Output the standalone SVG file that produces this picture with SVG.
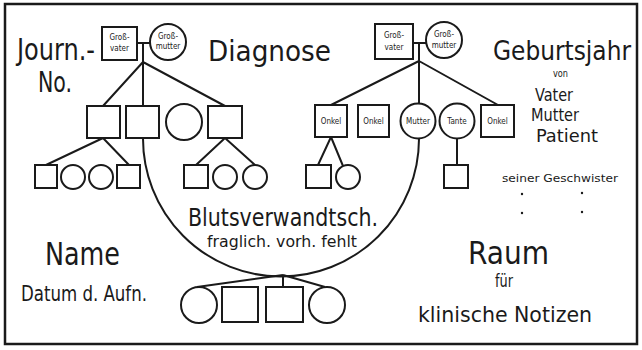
<svg xmlns="http://www.w3.org/2000/svg" width="642" height="350" viewBox="0 0 642 350">
  <style>
    .ln { fill: none; stroke: #1a1a1a; stroke-width: 2; }
    .nd { fill: #ffffff; stroke: #1a1a1a; stroke-width: 2; }
    .tx { font-family: "DejaVu Sans Condensed", "Liberation Sans Narrow", "Liberation Sans", sans-serif; fill: #1a1a1a; }
    .sm { font-family: "DejaVu Sans Condensed", "Liberation Sans Narrow", "Liberation Sans", sans-serif; fill: #1a1a1a; text-anchor: middle; font-size: 8px; }
  </style>

  <rect x="0" y="0" width="642" height="350" fill="#ffffff"/>
  <!-- card frame -->
  <rect x="5" y="4" width="632" height="340" fill="none" stroke="#1a1a1a" stroke-width="2.5"/>

  <!-- connectors -->
  <g id="connectors" class="ln">
    <!-- paternal side -->
    <path d="M137,43 H150 M143,43 V106 M143,62 L103,106 M143,62 L225,106"/>
    <path d="M103,138 L46,165 M103,138 L129,165"/>
    <path d="M225,138 L196,165 M225,138 L255,165"/>
    <!-- maternal side -->
    <path d="M413,43 H426 M419,43 V104 M419,61 L331,105 M419,61 L498,105"/>
    <path d="M331,137 L318,165 M331,137 L343,166"/>
    <path d="M457,139 V165"/>
    <!-- consanguinity arc between parents -->
    <path d="M143,138 A138,138 0 0 0 419,139"/>
    <!-- patient and siblings -->
    <path d="M283,275 L197,287 M283,275 V287 M283,275 L325,287"/>
  </g>

  <!-- paternal grandparents -->
  <g id="gv-paternal">
    <rect class="nd" x="102" y="27" width="35" height="33"/>
    <text class="sm" x="119.5" y="40" font-size="7">Groß-</text>
    <text class="sm" x="119.5" y="51" font-size="7">vater</text>
  </g>
  <g id="gm-paternal">
    <circle class="nd" cx="168" cy="42" r="18"/>
    <text class="sm" x="168" y="39" font-size="7">Groß-</text>
    <text class="sm" x="168" y="49" font-size="7">mutter</text>
  </g>

  <!-- father and his siblings -->
  <g id="p-child1"><rect class="nd" x="87" y="106" width="33" height="32"/></g>
  <g id="p-father"><rect class="nd" x="126" y="106" width="33" height="32"/></g>
  <g id="p-child3"><circle class="nd" cx="184" cy="122" r="18"/></g>
  <g id="p-child4"><rect class="nd" x="208" y="106" width="34" height="32"/></g>

  <!-- paternal cousins -->
  <g id="p-gc1"><rect class="nd" x="35" y="165" width="22" height="23"/></g>
  <g id="p-gc2"><circle class="nd" cx="73" cy="177" r="12"/></g>
  <g id="p-gc3"><circle class="nd" cx="101" cy="177" r="12"/></g>
  <g id="p-gc4"><rect class="nd" x="117" y="165" width="23" height="23"/></g>
  <g id="p-gc5"><rect class="nd" x="184" y="165" width="24" height="23"/></g>
  <g id="p-gc6"><circle class="nd" cx="225" cy="177" r="12"/></g>
  <g id="p-gc7"><circle class="nd" cx="255" cy="177" r="12"/></g>

  <!-- maternal grandparents -->
  <g id="gv-maternal">
    <rect class="nd" x="375" y="24" width="38" height="35"/>
    <text class="sm" x="394" y="38" font-size="7.5">Groß-</text>
    <text class="sm" x="394" y="50" font-size="7.5">vater</text>
  </g>
  <g id="gm-maternal">
    <circle class="nd" cx="444" cy="40" r="18"/>
    <text class="sm" x="444" y="37" font-size="7.5">Groß-</text>
    <text class="sm" x="444" y="48" font-size="7.5">mutter</text>
  </g>

  <!-- mother and her siblings -->
  <g id="m-onkel1">
    <rect class="nd" x="315" y="105" width="32" height="32"/>
    <text class="sm" x="331" y="124">Onkel</text>
  </g>
  <g id="m-onkel2">
    <rect class="nd" x="358" y="105" width="31" height="32"/>
    <text class="sm" x="373.5" y="124">Onkel</text>
  </g>
  <g id="m-mutter">
    <circle class="nd" cx="418" cy="121" r="17.5"/>
    <text class="sm" x="418" y="124">Mutter</text>
  </g>
  <g id="m-tante">
    <circle class="nd" cx="457" cy="121" r="17.5"/>
    <text class="sm" x="457" y="124">Tante</text>
  </g>
  <g id="m-onkel3">
    <rect class="nd" x="481" y="105" width="33" height="32"/>
    <text class="sm" x="497.5" y="124">Onkel</text>
  </g>

  <!-- maternal cousins -->
  <g id="m-gc1"><rect class="nd" x="306" y="165" width="25" height="23"/></g>
  <g id="m-gc2"><circle class="nd" cx="348" cy="177" r="12"/></g>
  <g id="m-gc3"><rect class="nd" x="444" y="165" width="24" height="23"/></g>

  <!-- patient and siblings -->
  <g id="s-1"><circle class="nd" cx="199" cy="305" r="18"/></g>
  <g id="s-2"><rect class="nd" x="222" y="287" width="36" height="35"/></g>
  <g id="s-3"><rect class="nd" x="266" y="287" width="37" height="35"/></g>
  <g id="s-4"><circle class="nd" cx="327" cy="305" r="18"/></g>

  <!-- field captions -->
  <g id="captions" class="tx">
    <text x="17" y="60" font-size="30" textLength="78" lengthAdjust="spacingAndGlyphs">Journ.-</text>
    <text x="38" y="92" font-size="28" textLength="34" lengthAdjust="spacingAndGlyphs">No.</text>
    <text x="208" y="61" font-size="28" textLength="123" lengthAdjust="spacingAndGlyphs">Diagnose</text>
    <text x="493" y="60" font-size="27" textLength="138" lengthAdjust="spacingAndGlyphs">Geburtsjahr</text>
    <text x="553" y="77" font-size="10" textLength="15" lengthAdjust="spacingAndGlyphs">von</text>
    <text x="535" y="101" font-size="18" textLength="38" lengthAdjust="spacingAndGlyphs">Vater</text>
    <text x="531" y="121" font-size="18" textLength="48" lengthAdjust="spacingAndGlyphs">Mutter</text>
    <text x="536" y="142" font-size="18" textLength="62" lengthAdjust="spacingAndGlyphs">Patient</text>
    <text x="502" y="182" font-size="10" textLength="116" lengthAdjust="spacingAndGlyphs">seiner Geschwister</text>
    <text x="188" y="226" font-size="24" textLength="190" lengthAdjust="spacingAndGlyphs">Blutsverwandtsch.</text>
    <text x="207" y="247" font-size="15" textLength="150" lengthAdjust="spacingAndGlyphs">fraglich. vorh. fehlt</text>
    <text x="45" y="265" font-size="32" textLength="75" lengthAdjust="spacingAndGlyphs">Name</text>
    <text x="21" y="301" font-size="21" textLength="126" lengthAdjust="spacingAndGlyphs">Datum d. Aufn.</text>
    <text x="468" y="264" font-size="32" textLength="81" lengthAdjust="spacingAndGlyphs">Raum</text>
    <text x="495" y="287" font-size="17" textLength="18" lengthAdjust="spacingAndGlyphs">für</text>
    <text x="418" y="322" font-size="22" textLength="174" lengthAdjust="spacingAndGlyphs">klinische Notizen</text>
  </g>

  <!-- ditto marks under "seiner Geschwister" -->
  <g id="ditto" fill="#1a1a1a">
    <circle cx="522" cy="194" r="1.2"/>
    <circle cx="582" cy="193" r="1.2"/>
    <circle cx="522" cy="213" r="1.2"/>
    <circle cx="582" cy="212" r="1.2"/>
  </g>
</svg>
